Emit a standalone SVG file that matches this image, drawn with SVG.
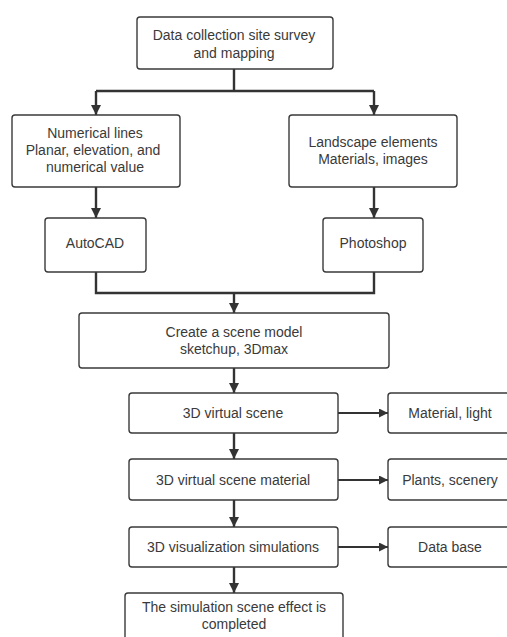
<svg xmlns="http://www.w3.org/2000/svg" width="507" height="637" viewBox="0 0 507 637">
<defs>
<style>
.box{fill:#fff;stroke:#3a3a3a;stroke-width:1.4}
.t{font-family:"Liberation Sans",Arial,sans-serif;font-size:14px;fill:#3a3a3a;text-anchor:middle;dominant-baseline:central}
.c{fill:none;stroke:#333;stroke-width:2.4}
.h{fill:none;stroke:#333;stroke-width:1.8}
</style>
<marker id="ah" viewBox="0 0 10 10" refX="10" refY="5" markerWidth="4.2" markerHeight="4.2" markerUnits="strokeWidth" orient="auto">
<path d="M0,0 L10,5 L0,10 z" fill="#333"/>
</marker>
<marker id="ahh" viewBox="0 0 10 10" refX="10" refY="5" markerWidth="6.5" markerHeight="5" markerUnits="strokeWidth" orient="auto">
<path d="M0,0 L10,5 L0,10 z" fill="#333"/>
</marker>
</defs>
<rect width="507" height="637" fill="#fff"/>
<g id="connectors">
<path class="c" d="M234,69 V91 M96,91 H374"/>
<path class="c" d="M96,91 V115" marker-end="url(#ah)"/>
<path class="c" d="M374,91 V115" marker-end="url(#ah)"/>
<path class="c" d="M96,187 V218" marker-end="url(#ah)"/>
<path class="c" d="M374,187 V218" marker-end="url(#ah)"/>
<path class="c" d="M96,272 V293 H374 V272"/>
<path class="c" d="M234,293 V313" marker-end="url(#ah)"/>
<path class="c" d="M234,368 V393" marker-end="url(#ah)"/>
<path class="c" d="M234,433 V459" marker-end="url(#ah)"/>
<path class="c" d="M234,500 V527" marker-end="url(#ah)"/>
<path class="c" d="M234,567 V593" marker-end="url(#ah)"/>
<path class="h" d="M338,413 H388" marker-end="url(#ahh)"/>
<path class="h" d="M338,480 H388" marker-end="url(#ahh)"/>
<path class="h" d="M338,547 H388" marker-end="url(#ahh)"/>
</g>
<g id="n1"><rect class="box" x="137" y="17" width="196" height="52" rx="3"/>
<text class="t" x="234" y="35">Data collection site survey</text><text class="t" x="234" y="53">and mapping</text></g>
<g id="n2"><rect class="box" x="12" y="115" width="168" height="72" rx="3"/>
<text class="t" x="95" y="133">Numerical lines</text><text class="t" x="93" y="150">Planar, elevation, and</text><text class="t" x="95" y="167">numerical value</text></g>
<g id="n3"><rect class="box" x="289" y="115" width="168" height="72" rx="3"/>
<text class="t" x="373" y="141.5">Landscape elements</text><text class="t" x="373" y="158.5">Materials, images</text></g>
<g id="n4"><rect class="box" x="45" y="218" width="101" height="54" rx="3"/>
<text class="t" x="95" y="243">AutoCAD</text></g>
<g id="n5"><rect class="box" x="323" y="218" width="100" height="54" rx="3"/>
<text class="t" x="373" y="243">Photoshop</text></g>
<g id="n6"><rect class="box" x="79" y="313" width="310" height="55" rx="3"/>
<text class="t" x="234" y="331.5">Create a scene model</text><text class="t" x="234" y="348.5">sketchup, 3Dmax</text></g>
<g id="n7"><rect class="box" x="129" y="393" width="209" height="40" rx="3"/>
<text class="t" x="233" y="413">3D virtual scene</text></g>
<g id="n8"><rect class="box" x="388" y="393" width="130" height="40" rx="3"/>
<text class="t" x="450" y="413">Material, light</text></g>
<g id="n9"><rect class="box" x="129" y="459" width="209" height="41" rx="3"/>
<text class="t" x="233" y="480">3D virtual scene material</text></g>
<g id="n10"><rect class="box" x="388" y="459" width="130" height="41" rx="3"/>
<text class="t" x="450" y="480">Plants, scenery</text></g>
<g id="n11"><rect class="box" x="129" y="527" width="209" height="40" rx="3"/>
<text class="t" x="233" y="547">3D visualization simulations</text></g>
<g id="n12"><rect class="box" x="388" y="527" width="130" height="40" rx="3"/>
<text class="t" x="450" y="547">Data base</text></g>
<g id="n13"><rect class="box" x="125" y="593" width="218" height="60" rx="3"/>
<text class="t" x="234" y="607">The simulation scene effect is</text><text class="t" x="234" y="624">completed</text></g>
</svg>
